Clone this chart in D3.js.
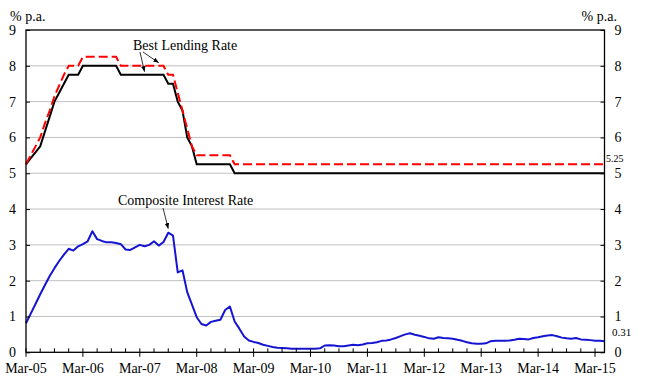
<!DOCTYPE html>
<html><head><meta charset="utf-8">
<script src="https://cdn.jsdelivr.net/npm/d3@7"></script>
<style>
html,body{margin:0;padding:0;background:#fff;}
svg text{font-family:"Liberation Serif","DejaVu Serif",serif !important;fill:#000;}
</style></head>
<body><svg id="c" width="655" height="383" font-family="Liberation Serif, DejaVu Serif, serif"></svg>
<script>
// Monthly, Mar-05 .. May-15 (index 0..122)
const blrLow = [5.25,5.42,5.58,5.75,6.17,6.58,7.0,7.25,7.5,7.75,7.75,7.75,8.0,8.0,8.0,8.0,8.0,8.0,8.0,8.0,
  7.75,7.75,7.75,7.75,7.75,7.75,7.75,7.75,7.75,7.75,7.5,7.5,7.0,6.75,6.0,5.75,5.25,5.25,5.25,5.25,
  5.25,5.25,5.25,5.25,5.0,5.0,5.0,5.0,5.0,5.0,5.0,5.0,5.0,5.0,5.0,5.0,5.0,5.0,5.0,5.0,
  5.0,5.0,5.0,5.0,5.0,5.0,5.0,5.0,5.0,5.0,5.0,5.0,5.0,5.0,5.0,5.0,5.0,5.0,5.0,5.0,
  5.0,5.0,5.0,5.0,5.0,5.0,5.0,5.0,5.0,5.0,5.0,5.0,5.0,5.0,5.0,5.0,5.0,5.0,5.0,5.0,
  5.0,5.0,5.0,5.0,5.0,5.0,5.0,5.0,5.0,5.0,5.0,5.0,5.0,5.0,5.0,5.0,5.0,5.0,5.0,5.0,
  5.0,5.0,5.0];
const blrHigh = [5.25,5.5,5.75,6.0,6.4,6.75,7.15,7.45,7.75,8.0,8.0,8.0,8.25,8.25,8.25,8.25,8.25,8.25,8.25,8.25,
  8.0,8.0,8.0,8.0,8.0,8.0,8.0,8.0,8.0,8.0,7.75,7.75,7.25,6.75,6.25,5.75,5.5,5.5,5.5,5.5,
  5.5,5.5,5.5,5.5,5.25,5.25,5.25,5.25,5.25,5.25,5.25,5.25,5.25,5.25,5.25,5.25,5.25,5.25,5.25,5.25,
  5.25,5.25,5.25,5.25,5.25,5.25,5.25,5.25,5.25,5.25,5.25,5.25,5.25,5.25,5.25,5.25,5.25,5.25,5.25,5.25,
  5.25,5.25,5.25,5.25,5.25,5.25,5.25,5.25,5.25,5.25,5.25,5.25,5.25,5.25,5.25,5.25,5.25,5.25,5.25,5.25,
  5.25,5.25,5.25,5.25,5.25,5.25,5.25,5.25,5.25,5.25,5.25,5.25,5.25,5.25,5.25,5.25,5.25,5.25,5.25,5.25,
  5.25,5.25,5.25];
const composite = [0.81,1.08,1.35,1.62,1.88,2.13,2.35,2.55,2.73,2.89,2.84,2.96,3.02,3.10,3.38,3.16,3.11,3.07,3.07,3.05,
  3.02,2.87,2.86,2.93,3.00,2.96,3.00,3.10,2.98,3.08,3.34,3.26,2.23,2.29,1.68,1.33,0.98,0.79,0.75,0.85,
  0.88,0.91,1.18,1.28,0.86,0.66,0.44,0.33,0.29,0.26,0.21,0.18,0.15,0.13,0.12,0.11,0.10,0.10,0.10,0.10,
  0.10,0.10,0.11,0.19,0.20,0.19,0.17,0.17,0.19,0.21,0.20,0.22,0.25,0.26,0.28,0.32,0.33,0.36,0.40,0.45,
  0.50,0.53,0.49,0.46,0.43,0.39,0.38,0.42,0.40,0.39,0.38,0.35,0.32,0.28,0.25,0.24,0.24,0.25,0.31,0.32,
  0.32,0.32,0.33,0.35,0.38,0.37,0.36,0.40,0.42,0.45,0.47,0.48,0.45,0.41,0.39,0.38,0.40,0.36,0.35,0.34,
  0.32,0.32,0.31];
const xTickLabels = ["Mar-05","Mar-06","Mar-07","Mar-08","Mar-09","Mar-10","Mar-11","Mar-12","Mar-13","Mar-14","Mar-15"];
const yTicks = [0,1,2,3,4,5,6,7,8,9];

const FONT = "Liberation Serif, DejaVu Serif, serif";
const svg = d3.select("#c");
const L = 26, R = 604.5, T = 30, B = 352.3;
const n = composite.length;
const x = d3.scaleLinear().domain([0, n - 1]).range([L, R]);
const y = d3.scaleLinear().domain([0, 9]).range([B, T]);

// gridlines
svg.append("g").selectAll("line").data(yTicks.filter(d => d > 0 && d < 9)).join("line")
  .attr("x1", L).attr("x2", R).attr("y1", d => y(d)).attr("y2", d => y(d))
  .attr("stroke", "#c0c0c0").attr("stroke-width", 1);

// lines
const line = arr => d3.line().x((d, i) => x(i)).y(d => y(d))(arr);
svg.append("path").attr("d", line(blrLow)).attr("fill", "none").attr("stroke", "#000").attr("stroke-width", 2);
svg.append("path").attr("d", line(blrHigh)).attr("fill", "none").attr("stroke", "#ff0000").attr("stroke-width", 2).attr("stroke-dasharray", "9,4");
svg.append("path").attr("d", line(composite)).attr("fill", "none").attr("stroke", "#1414d2").attr("stroke-width", 2).attr("stroke-linejoin", "round");

// frame
svg.append("rect").attr("x", L).attr("y", T).attr("width", R - L).attr("height", B - T)
  .attr("fill", "none").attr("stroke", "#000").attr("stroke-width", 1.3);

// left / right axes
const yl = svg.append("g").attr("transform", `translate(${L},0)`)
  .call(d3.axisLeft(y).tickValues(yTicks).tickSize(-4).tickPadding(10).tickFormat(d3.format("d")));
const yr = svg.append("g").attr("transform", `translate(${R},0)`)
  .call(d3.axisRight(y).tickValues(yTicks).tickSize(-4).tickPadding(10).tickFormat(d3.format("d")));
[yl, yr].forEach(g => {
  g.attr("font-family", FONT).attr("font-size", 14);
  g.select(".domain").remove();
  g.selectAll("line").attr("stroke", "#000");
});

// x axis: minor quarterly ticks inward, major yearly ticks crossing
const quarters = d3.range(0, n, 3);
const xa = svg.append("g");
xa.selectAll("line").data(quarters).join("line")
  .attr("x1", d => x(d)).attr("x2", d => x(d))
  .attr("y1", B - 4).attr("y2", d => d % 12 === 0 ? B + 4.5 : B)
  .attr("stroke", "#000").attr("stroke-width", 1);
xa.selectAll("text").data(xTickLabels).join("text")
  .attr("x", (d, i) => x(i * 12)).attr("y", 372.5).attr("text-anchor", "middle")
  .attr("font-family", FONT).attr("font-size", 14).text(d => d);

// unit labels
svg.append("text").attr("x", 10).attr("y", 21).attr("font-size", 14).text("% p.a.");
svg.append("text").attr("x", 617).attr("y", 21).attr("text-anchor", "end").attr("font-size", 14).text("% p.a.");

// end value labels
svg.append("text").attr("x", 606).attr("y", y(blrHigh[n - 1]) - 2).attr("font-size", 10)
  .text(d3.format(".2f")(blrHigh[n - 1]));
svg.append("text").attr("x", 612).attr("y", y(composite[n - 1]) - 5).attr("font-size", 11)
  .text(d3.format(".2f")(composite[n - 1]));

// annotations
const defs = svg.append("defs");
defs.append("marker").attr("id", "ah").attr("viewBox", "0 0 10 10").attr("refX", 10).attr("refY", 5)
  .attr("markerWidth", 7).attr("markerHeight", 7).attr("orient", "auto")
  .append("path").attr("d", "M0,1 L10,5 L0,9 Z").attr("fill", "#000");
svg.append("text").attr("x", 133).attr("y", 50).attr("font-size", 14).text("Best Lending Rate");
svg.append("line").attr("x1", 140).attr("y1", 52).attr("x2", x(25)).attr("y2", y(blrLow[25]) - 3)
  .attr("stroke", "#000").attr("stroke-width", 0.8).attr("marker-end", "url(#ah)");
svg.append("line").attr("x1", 143).attr("y1", 52).attr("x2", x(28)).attr("y2", y(blrHigh[28]) - 3)
  .attr("stroke", "#000").attr("stroke-width", 0.8).attr("marker-end", "url(#ah)");
svg.append("text").attr("x", 118).attr("y", 205).attr("font-size", 14).text("Composite Interest Rate");
svg.append("line").attr("x1", 163).attr("y1", 208).attr("x2", x(30)).attr("y2", y(composite[30]) - 4)
  .attr("stroke", "#000").attr("stroke-width", 0.8).attr("marker-end", "url(#ah)");
</script></body></html>
